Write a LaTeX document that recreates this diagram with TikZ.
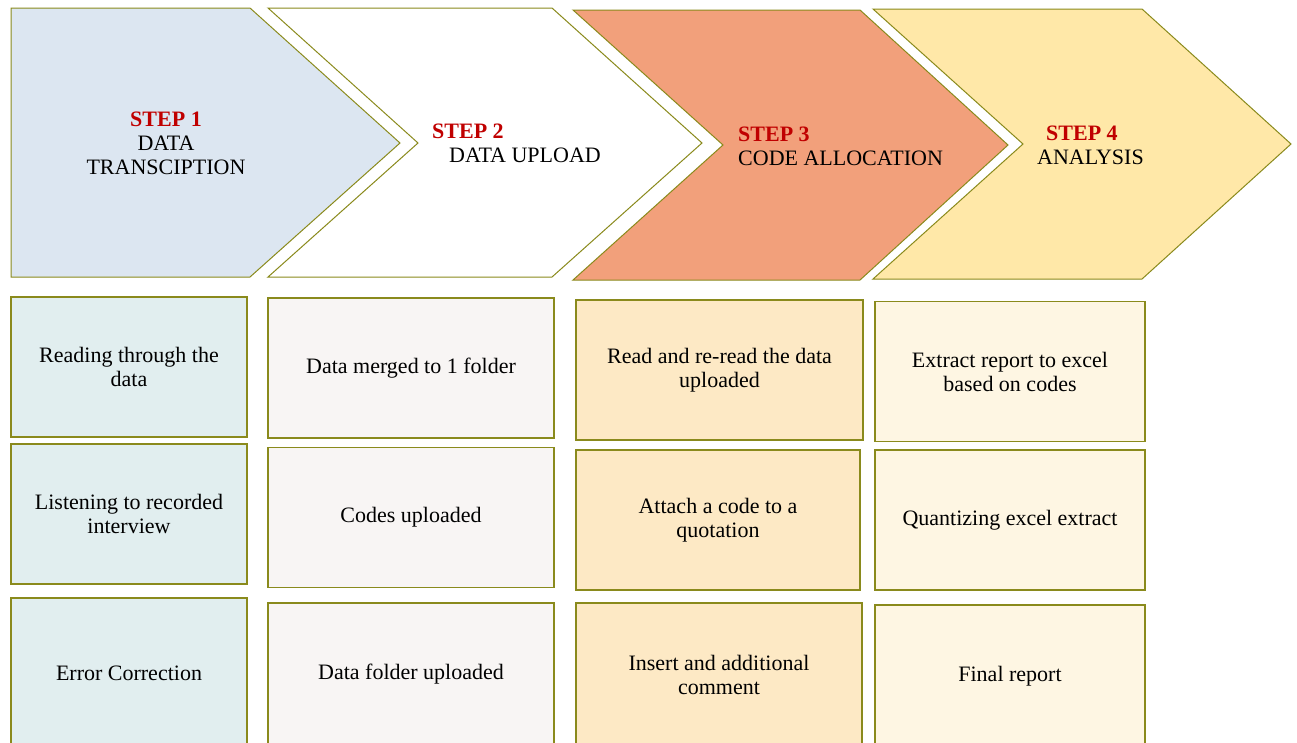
\documentclass[tikz,border=0pt]{standalone}
\usepackage{fontspec}
\setmainfont{Liberation Serif}
\usepackage{xcolor}
\definecolor{olivine}{RGB}{138,138,28}
\definecolor{stepred}{RGB}{192,0,0}
\definecolor{bluestep}{RGB}{220,230,241}
\definecolor{salmonstep}{RGB}{242,160,123}
\definecolor{yellowstep}{RGB}{255,232,168}
\definecolor{col1fill}{RGB}{225,238,239}
\definecolor{col2fill}{RGB}{248,245,244}
\definecolor{col3fill}{RGB}{253,233,197}
\definecolor{col4fill}{RGB}{254,246,227}
\tikzstyle{chevron} = [draw=olivine, line width=1pt, line join=miter]
\tikzstyle{steplabel} = [align=center, inner sep=0pt, font=\fontsize{22}{24}\selectfont]
\tikzstyle{taskbox} = [draw=olivine, line width=1.6pt, rectangle, minimum height=140pt, inner sep=0pt, align=center, font=\fontsize{22}{24}\selectfont]
\newcommand{\stepno}[1]{\textcolor{stepred}{\textbf{#1}}}

\begin{document}
\begin{tikzpicture}[x=1pt, y=-1pt]
    \clip (0,0) rectangle (1297,742);
    % the four step chevrons
    \draw[chevron, fill=bluestep] (11,8) -- (250,8) -- (400,143) -- (250,277) -- (11,277) -- cycle;
    \draw[chevron, fill=white] (268,8) -- (552,8) -- (702,143) -- (552,277) -- (268,277) -- (418,143) -- cycle;
    \draw[chevron, fill=salmonstep] (573,10) -- (860,10) -- (1008,145) -- (860,280) -- (573,280) -- (723,145) -- cycle;
    \draw[chevron, fill=yellowstep] (873,9) -- (1142,9) -- (1291,144) -- (1142,279) -- (873,279) -- (1023,144) -- cycle;

    \node[steplabel] (transcription) at (166,143) {\stepno{STEP 1}\\DATA\\TRANSCIPTION};
    \node[steplabel, align=left, anchor=west] (upload) at (432,143) {\stepno{STEP 2}\\\hspace*{17pt}DATA UPLOAD};
    \node[steplabel, align=left, anchor=west] (allocation) at (738,146) {\stepno{STEP 3}\\CODE ALLOCATION};
    \node[steplabel, align=left, anchor=west] (analysis) at (1037,145) {\hspace*{9pt}\stepno{STEP 4}\\ANALYSIS};

    % tasks under each step
    \node[taskbox, fill=col1fill, minimum width=236pt] (read) at (129,367) {Reading through the\\data};
    \node[taskbox, fill=col1fill, minimum width=236pt] (listen) at (129,514) {Listening to recorded\\interview};
    \node[taskbox, fill=col1fill, minimum width=236pt, minimum height=150pt] (errfix) at (129,673) {Error Correction};

    \node[taskbox, fill=col2fill, minimum width=286pt] (merged) at (411,368) {Data merged to 1 folder};
    \node[taskbox, fill=col2fill, minimum width=286pt] (codesup) at (411,517.5) {Codes uploaded};
    \node[taskbox, fill=col2fill, minimum width=286pt, minimum height=142pt] (folderup) at (411,674) {Data folder uploaded};

    \node[taskbox, fill=col3fill, minimum width=287pt] (reread) at (719.5,370) {Read and re-read the data\\uploaded};
    \node[taskbox, fill=col3fill, minimum width=284pt] (attach) at (718,520) {Attach a code to a\\quotation};
    \node[taskbox, fill=col3fill, minimum width=286pt, minimum height=144pt] (comment) at (719,675) {Insert and additional\\comment};

    \node[taskbox, fill=col4fill, minimum width=270pt] (extract) at (1010,371.5) {Extract report to excel\\based on codes};
    \node[taskbox, fill=col4fill, minimum width=270pt] (quantize) at (1010,520) {Quantizing excel extract};
    \node[taskbox, fill=col4fill, minimum width=270pt, minimum height=142pt] (report) at (1010,676) {Final report};
\end{tikzpicture}
\end{document}
